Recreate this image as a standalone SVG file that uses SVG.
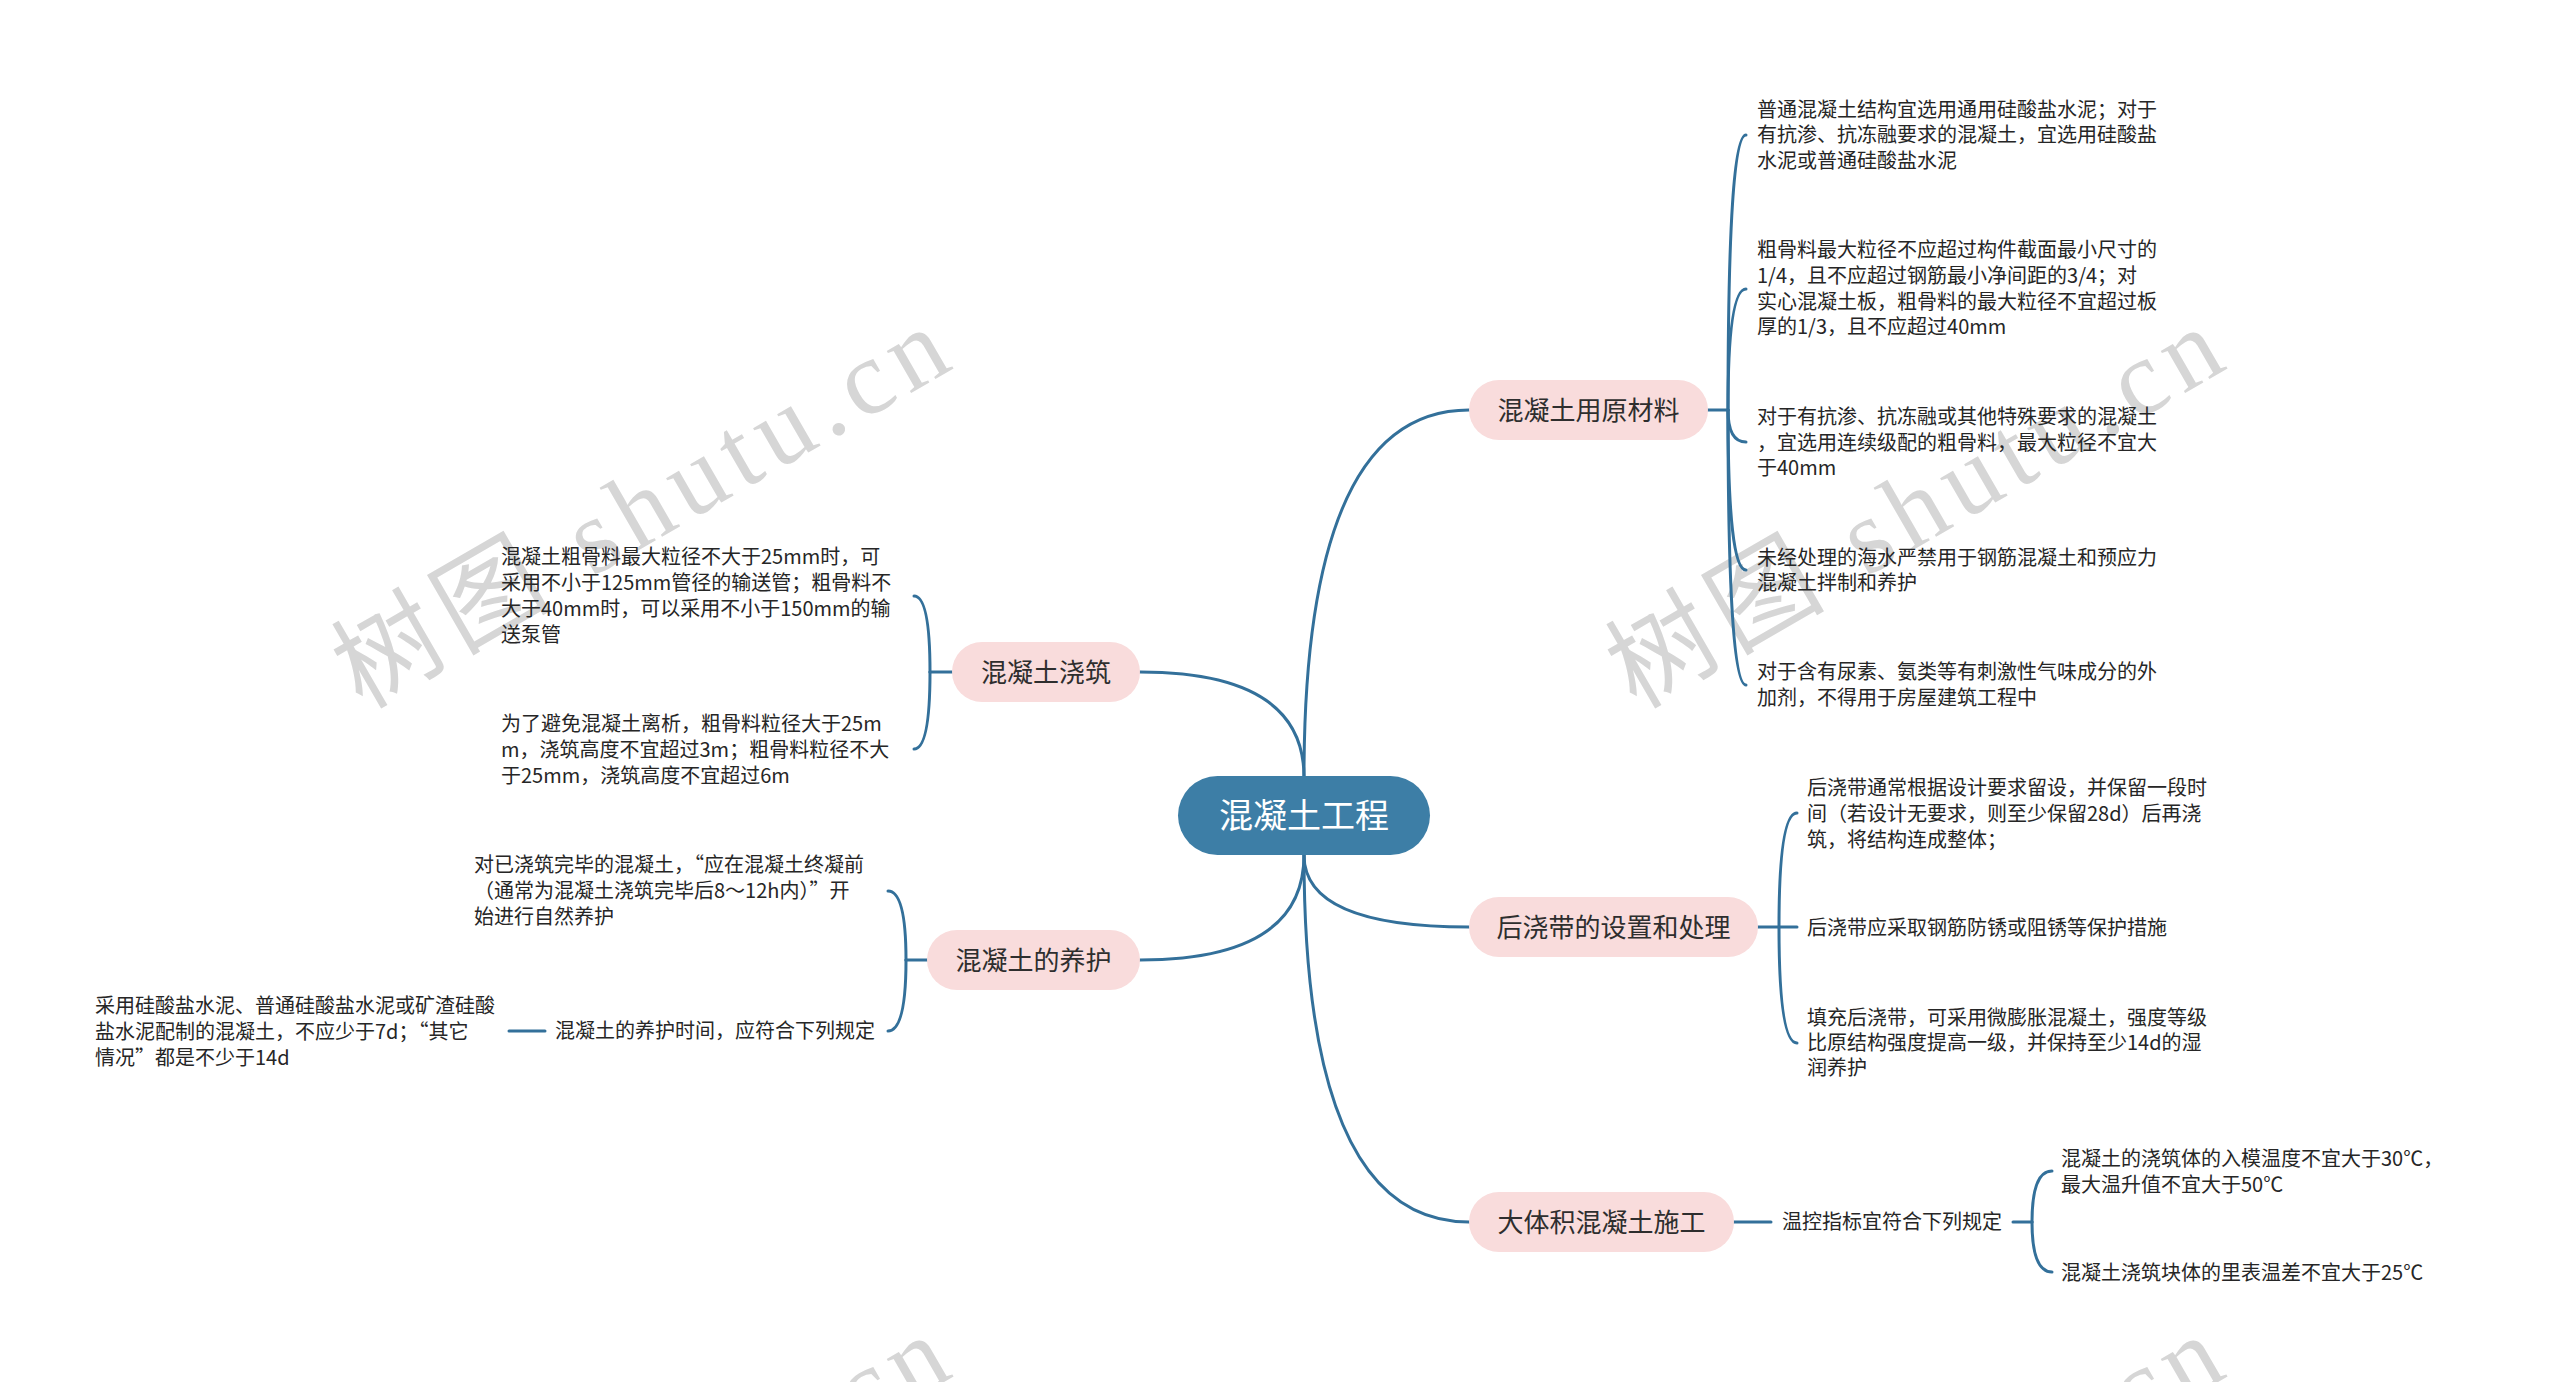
<svg xmlns="http://www.w3.org/2000/svg" width="2560" height="1382" viewBox="0 0 2560 1382">
<style>
.conn{fill:none;stroke:#33709a;stroke-width:3;stroke-linecap:round}
.main rect{fill:#f9dcdc}
.main text{font-family:"Noto Sans CJK SC","Noto Sans CJK JP",sans-serif;font-size:26px;fill:#2e2e2e;text-anchor:middle}
.root rect{fill:#3d7ea6}
.root text{font-family:"Noto Sans CJK SC","Noto Sans CJK JP",sans-serif;font-size:34px;fill:#ffffff;text-anchor:middle}
.leaf text{font-family:"Noto Sans CJK SC","Noto Sans CJK JP",sans-serif;font-size:20px;fill:#262626}
.wm{font-family:"Liberation Serif","Noto Sans CJK SC",serif;font-size:106px;fill:#d6d6d6;letter-spacing:9px}
</style>
<rect width="2560" height="1382" fill="#ffffff"/>

<g id="watermark">
  <text class="wm" transform="translate(362,710) rotate(-30)">树图 shutu.cn</text>
  <text class="wm" transform="translate(1636,710) rotate(-30)">树图 shutu.cn</text>
  <text class="wm" transform="translate(362,1718) rotate(-30)">树图 shutu.cn</text>
  <text class="wm" transform="translate(1636,1718) rotate(-30)">树图 shutu.cn</text>
</g>

<g id="connectors">
  <path class="conn" d="M1304,790 L1304,777 Q1304,410 1469,410"/>
  <path class="conn" d="M1304,790 L1304,777 Q1304,672 1140,672"/>
  <path class="conn" d="M1304,840 L1304,855 Q1304,960 1140,960"/>
  <path class="conn" d="M1304,840 L1304,855 Q1304,927 1469,927"/>
  <path class="conn" d="M1304,840 L1304,855 Q1304,1222 1469,1222"/>
  <path class="conn" d="M1708,410 H1728"/>
  <path class="conn" d="M1728,410 Q1728,135 1746,135"/>
  <path class="conn" d="M1728,410 Q1728,289 1746,289"/>
  <path class="conn" d="M1728,410 Q1728,442 1746,442"/>
  <path class="conn" d="M1728,410 Q1728,570 1746,570"/>
  <path class="conn" d="M1728,410 Q1728,685 1746,685"/>
  <path class="conn" d="M1758,927 H1797"/>
  <path class="conn" d="M1779,927 Q1779,813 1797,813"/>
  <path class="conn" d="M1779,927 Q1779,1043 1797,1043"/>
  <path class="conn" d="M1734,1222 H1771"/>
  <path class="conn" d="M2013,1222 H2032"/>
  <path class="conn" d="M2032,1222 Q2032,1171 2052,1171"/>
  <path class="conn" d="M2032,1222 Q2032,1272 2052,1272"/>
  <path class="conn" d="M952,672 H930"/>
  <path class="conn" d="M930,672 Q930,596 914,596"/>
  <path class="conn" d="M930,672 Q930,749 914,749"/>
  <path class="conn" d="M927,960 H906"/>
  <path class="conn" d="M906,960 Q906,891 888,891"/>
  <path class="conn" d="M906,960 Q906,1031 888,1031"/>
  <path class="conn" d="M545,1031 H509"/>
</g>

<g id="root" class="root">
  <rect x="1178" y="776" width="252" height="79" rx="39.5"/>
  <text x="1304" y="828">混凝土工程</text>
</g>

<g id="n-materials" class="main">
  <rect x="1469" y="380" width="239" height="60" rx="30"/>
  <text x="1588.5" y="419.5">混凝土用原材料</text>
</g>
<g id="n-pouring" class="main">
  <rect x="952" y="642" width="188" height="60" rx="30"/>
  <text x="1046" y="681.5">混凝土浇筑</text>
</g>
<g id="n-curing" class="main">
  <rect x="927" y="930" width="213" height="60" rx="30"/>
  <text x="1033.5" y="969.5">混凝土的养护</text>
</g>
<g id="n-postpour" class="main">
  <rect x="1469" y="897" width="289" height="60" rx="30"/>
  <text x="1613.5" y="936.5">后浇带的设置和处理</text>
</g>
<g id="n-mass" class="main">
  <rect x="1469" y="1192" width="265" height="60" rx="30"/>
  <text x="1601.5" y="1231.5">大体积混凝土施工</text>
</g>

<g id="leaf-m1" class="leaf"><text x="1757">
  <tspan x="1757" y="117">普通混凝土结构宜选用通用硅酸盐水泥；对于</tspan>
  <tspan x="1757" y="142">有抗渗、抗冻融要求的混凝土，宜选用硅酸盐</tspan>
  <tspan x="1757" y="168">水泥或普通硅酸盐水泥</tspan></text></g>
<g id="leaf-m2" class="leaf"><text x="1757">
  <tspan x="1757" y="257">粗骨料最大粒径不应超过构件截面最小尺寸的</tspan>
  <tspan x="1757" y="283">1/4，且不应超过钢筋最小净间距的3/4；对</tspan>
  <tspan x="1757" y="309">实心混凝土板，粗骨料的最大粒径不宜超过板</tspan>
  <tspan x="1757" y="334">厚的1/3，且不应超过40mm</tspan></text></g>
<g id="leaf-m3" class="leaf"><text x="1757">
  <tspan x="1757" y="424">对于有抗渗、抗冻融或其他特殊要求的混凝土</tspan>
  <tspan x="1757" y="450">，宜选用连续级配的粗骨料，最大粒径不宜大</tspan>
  <tspan x="1757" y="475">于40mm</tspan></text></g>
<g id="leaf-m4" class="leaf"><text x="1757">
  <tspan x="1757" y="565">未经处理的海水严禁用于钢筋混凝土和预应力</tspan>
  <tspan x="1757" y="590">混凝土拌制和养护</tspan></text></g>
<g id="leaf-m5" class="leaf"><text x="1757">
  <tspan x="1757" y="679">对于含有尿素、氨类等有刺激性气味成分的外</tspan>
  <tspan x="1757" y="705">加剂，不得用于房屋建筑工程中</tspan></text></g>

<g id="leaf-p1" class="leaf"><text x="1807">
  <tspan x="1807" y="795">后浇带通常根据设计要求留设，并保留一段时</tspan>
  <tspan x="1807" y="821">间（若设计无要求，则至少保留28d）后再浇</tspan>
  <tspan x="1807" y="847">筑，将结构连成整体；</tspan></text></g>
<g id="leaf-p2" class="leaf"><text x="1807" y="935">后浇带应采取钢筋防锈或阻锈等保护措施</text></g>
<g id="leaf-p3" class="leaf"><text x="1807">
  <tspan x="1807" y="1025">填充后浇带，可采用微膨胀混凝土，强度等级</tspan>
  <tspan x="1807" y="1050">比原结构强度提高一级，并保持至少14d的湿</tspan>
  <tspan x="1807" y="1075">润养护</tspan></text></g>

<g id="leaf-t" class="leaf"><text x="1782" y="1229">温控指标宜符合下列规定</text></g>
<g id="leaf-t1" class="leaf"><text x="2061">
  <tspan x="2061" y="1166">混凝土的浇筑体的入模温度不宜大于30℃，</tspan>
  <tspan x="2061" y="1192">最大温升值不宜大于50℃</tspan></text></g>
<g id="leaf-t2" class="leaf"><text x="2061" y="1280">混凝土浇筑块体的里表温差不宜大于25℃</text></g>

<g id="leaf-j1" class="leaf"><text x="501">
  <tspan x="501" y="564">混凝土粗骨料最大粒径不大于25mm时，可</tspan>
  <tspan x="501" y="590">采用不小于125mm管径的输送管；粗骨料不</tspan>
  <tspan x="501" y="616">大于40mm时，可以采用不小于150mm的输</tspan>
  <tspan x="501" y="642">送泵管</tspan></text></g>
<g id="leaf-j2" class="leaf"><text x="501">
  <tspan x="501" y="731">为了避免混凝土离析，粗骨料粒径大于25m</tspan>
  <tspan x="501" y="757">m，浇筑高度不宜超过3m；粗骨料粒径不大</tspan>
  <tspan x="501" y="783">于25mm，浇筑高度不宜超过6m</tspan></text></g>

<g id="leaf-c1" class="leaf"><text x="474">
  <tspan x="474" y="872">对已浇筑完毕的混凝土，“应在混凝土终凝前</tspan>
  <tspan x="474" y="898">（通常为混凝土浇筑完毕后8～12h内）”开</tspan>
  <tspan x="474" y="924">始进行自然养护</tspan></text></g>
<g id="leaf-c2" class="leaf"><text x="555" y="1038">混凝土的养护时间，应符合下列规定</text></g>
<g id="leaf-c3" class="leaf"><text x="95">
  <tspan x="95" y="1013">采用硅酸盐水泥、普通硅酸盐水泥或矿渣硅酸</tspan>
  <tspan x="95" y="1039">盐水泥配制的混凝土，不应少于7d；“其它</tspan>
  <tspan x="95" y="1065">情况”都是不少于14d</tspan></text></g>
</svg>
